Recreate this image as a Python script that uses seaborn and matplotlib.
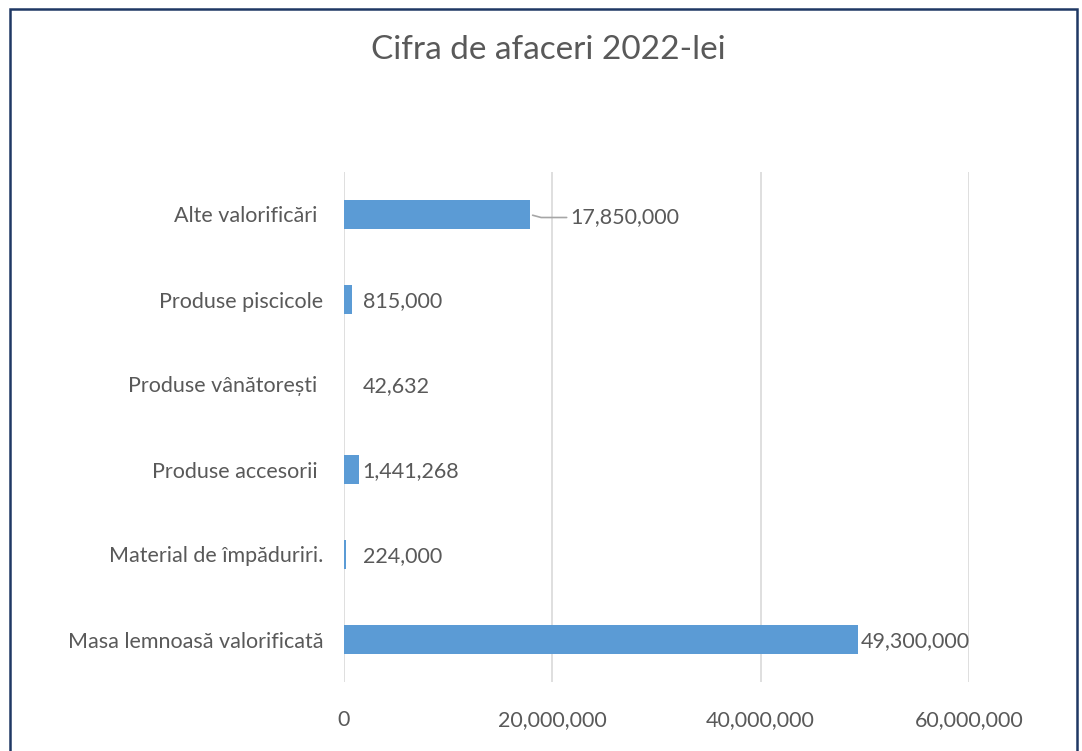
import matplotlib
matplotlib.use("Agg")
import matplotlib.pyplot as plt
import seaborn as sns
import pandas as pd
from matplotlib.patches import Rectangle
from matplotlib.ticker import FuncFormatter

categories = ["Alte valorificări ", "Produse piscicole", "Produse vânătorești ",
              "Produse accesorii ", "Material de împăduriri.", "Masa lemnoasă valorificată"]
values = [17850000, 815000, 42632, 1441268, 224000, 49300000]
xticks = [0, 20000000, 40000000, 60000000]
title = "Cifra de afaceri 2022-lei"

sns.set_theme(style="white")
plt.rcParams['font.family'] = ['Lato', 'DejaVu Sans']
txt = "#595959"
fs = 15.5

df = pd.DataFrame({"cat": categories, "val": values})

fig = plt.figure(figsize=(10.82, 7.51), dpi=100)
ax = fig.add_axes([344/1082, 1-682/751, 625/1082, 510/751])
sns.barplot(data=df, x="val", y="cat", color="#5b9bd5", width=0.35, saturation=1,
            linewidth=0, ax=ax, orient="h")

ax.set_xlim(0, 60000000)
ax.set_ylim(5.5, -0.5)
ax.set_xticks(xticks)
ax.xaxis.set_major_formatter(FuncFormatter(lambda v, p: f"{int(v):,}"))
ax.grid(axis="x", color="#d9d9d9", linewidth=1.2)
ax.grid(axis="y", visible=False)
ax.set_axisbelow(True)
for s in ax.spines.values():
    s.set_visible(False)
ax.tick_params(axis="x", length=0, pad=20, labelsize=fs, labelcolor=txt)
ax.tick_params(axis="y", length=0, pad=15, labelsize=fs, labelcolor=txt)
ax.set_xlabel("")
ax.set_ylabel("")

for i, v in enumerate(values):
    lab = f"{v:,}"
    if i == 0:
        ax.annotate(lab, xy=(v, i), xytext=(40, -3), textcoords="offset pixels",
                    ha="left", va="center", fontsize=fs, color=txt,
                    arrowprops=dict(arrowstyle="-", color="#a6a6a6", lw=1.2,
                                    connectionstyle="angle,angleA=0,angleB=-15,rad=0",
                                    shrinkA=0, shrinkB=2))
    else:
        x = max(v, 1500000)
        ax.annotate(lab, xy=(x, i), xytext=(3, -2), textcoords="offset pixels",
                    ha="left", va="center", fontsize=fs, color=txt)

fig.text(548/1082, 1-50/751, title, ha="center", va="center", fontsize=24, color=txt)
fig.patches.append(Rectangle((10/1082, -0.05), 1067/1082, 1.05 - 9/751,
                             transform=fig.transFigure, fill=False,
                             edgecolor="#1f3864", linewidth=1.8))

fig.savefig("out.png", dpi=100)
